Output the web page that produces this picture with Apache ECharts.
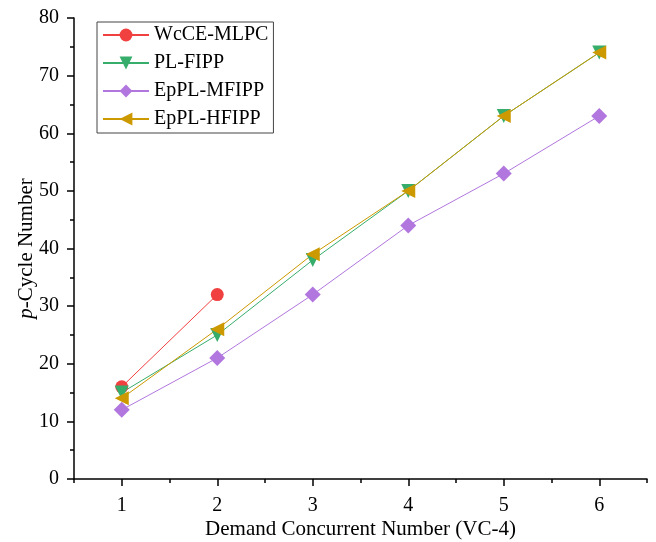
<!DOCTYPE html>
<html>
<head>
<meta charset="utf-8">
<script src="https://cdn.jsdelivr.net/npm/echarts@6/dist/echarts.min.js"></script>
<style>
  html, body { margin: 0; padding: 0; background: #fff; }
  #main { width: 656px; height: 542px; }
</style>
</head>
<body>
<div id="main"></div>
<script>
// demand concurrent number (VC-4)
let demand = [1, 2, 3, 4, 5, 6];
let wcceMlpc = [16, 32];
let plFipp = [15, 25, 38, 50, 63, 74];
let epplMfipp = [12, 21, 32, 44, 53, 63];
let epplHfipp = [14, 26, 39, 50, 63, 74];
let yTicks = [0, 10, 20, 30, 40, 50, 60, 70, 80];

const font = 'Liberation Serif, Times New Roman, serif';
const pairs = (ys) => ys.map((y, i) => [demand[i], y]);

let myChart = echarts.init(document.getElementById('main'));

const lineSeries = (name, data, color, symbol, size, rotate) => ({
    name: name,
    type: 'line',
    data: pairs(data),
    symbol: symbol,
    symbolSize: size,
    symbolRotate: rotate || 0,
    showAllSymbol: true,
    lineStyle: {color: color, width: 1},
    itemStyle: {color: color},
    emphasis: {disabled: true},
    animation: false
});

let option = {
    backgroundColor: '#fff',
    textStyle: {fontFamily: font},
    grid: {left: 74, right: 9, top: 18, bottom: 63, outerBoundsMode: 'none'},
    legend: {
        orient: 'vertical',
        left: 97,
        top: 22,
        padding: [3, 5, 4, 5],
        itemWidth: 46,
        itemHeight: 16,
        itemGap: 8,
        borderColor: '#444',
        borderWidth: 1,
        textStyle: {fontFamily: font, fontSize: 20, color: '#000'},
        data: ['WcCE-MLPC', 'PL-FIPP', 'EpPL-MFIPP', 'EpPL-HFIPP']
    },
    xAxis: [{
        type: 'value',
        min: 0.5,
        max: 6.5,
        interval: 0.5,
        name: 'Demand Concurrent Number (VC-4)',
        nameLocation: 'middle',
        nameGap: 40,
        nameMoveOverlap: false,
        nameTextStyle: {fontFamily: font, fontSize: 21, color: '#000'},
        axisLine: {show: true, onZero: false, lineStyle: {color: '#000', width: 1.5}},
        axisTick: {show: true, inside: false, length: 4, lineStyle: {color: '#000', width: 1.5}},
        axisLabel: {
            fontFamily: font, fontSize: 20, color: '#000', margin: 17,
            formatter: v => (Number.isInteger(v) ? String(v) : '')
        },
        splitLine: {show: false}
    }, {
        type: 'value',
        min: 0.5,
        max: 6.5,
        position: 'bottom',
        axisLine: {show: false},
        axisTick: {show: true, customValues: demand, length: 7, lineStyle: {color: '#000', width: 1.5}},
        axisLabel: {show: false},
        splitLine: {show: false}
    }],
    yAxis: {
        type: 'value',
        min: yTicks[0],
        max: yTicks[yTicks.length - 1],
        interval: 10,
        name: '{i|p}-Cycle Number',
        nameLocation: 'middle',
        nameGap: 37,
        nameMoveOverlap: false,
        nameTextStyle: {
            fontFamily: font, fontSize: 21, color: '#000',
            rich: {i: {fontFamily: font, fontSize: 21, fontStyle: 'italic', color: '#000'}}
        },
        axisLine: {show: true, lineStyle: {color: '#000', width: 1.5}},
        axisTick: {show: true, length: 7, lineStyle: {color: '#000', width: 1.5}},
        minorTick: {show: true, splitNumber: 2, length: 4, lineStyle: {color: '#000', width: 1.5}},
        axisLabel: {fontFamily: font, fontSize: 20, color: '#000', margin: 15},
        splitLine: {show: false}
    },
    series: [
        lineSeries('WcCE-MLPC', wcceMlpc, '#F14040', 'circle', 13),
        lineSeries('PL-FIPP', plFipp, '#37AD6B', 'triangle', 14, 180),
        lineSeries('EpPL-MFIPP', epplMfipp, '#B177DE', 'diamond', 16),
        lineSeries('EpPL-HFIPP', epplHfipp, '#CC9900', 'triangle', 14, 90)
    ]
};

myChart.setOption(option);
</script>
</body>
</html>
